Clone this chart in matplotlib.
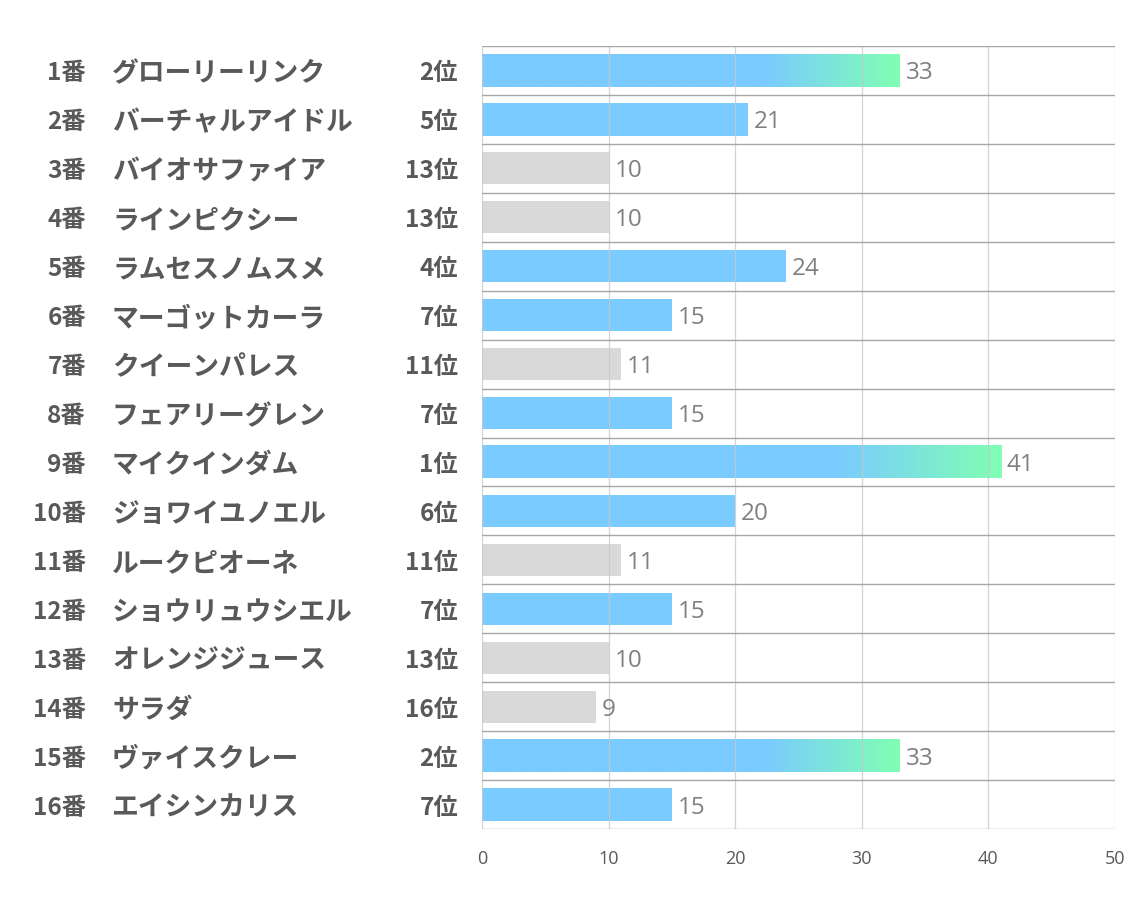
import matplotlib
matplotlib.use("Agg")
import matplotlib.pyplot as plt
import matplotlib.transforms as mtransforms
from matplotlib.colors import LinearSegmentedColormap
import numpy as np

plt.rcParams['font.family'] = ['Noto Sans CJK JP', 'DejaVu Sans']

numbers = ["1番", "2番", "3番", "4番", "5番", "6番", "7番", "8番",
           "9番", "10番", "11番", "12番", "13番", "14番", "15番", "16番"]
names = ["グローリーリンク", "バーチャルアイドル", "バイオサファイア", "ラインピクシー",
         "ラムセスノムスメ", "マーゴットカーラ", "クイーンパレス", "フェアリーグレン",
         "マイクインダム", "ジョワイユノエル", "ルークピオーネ", "ショウリュウシエル",
         "オレンジジュース", "サラダ", "ヴァイスクレー", "エイシンカリス"]
ranks = [2, 5, 13, 13, 4, 7, 11, 7, 1, 6, 11, 7, 13, 16, 2, 7]
values = [33, 21, 10, 10, 24, 15, 11, 15, 41, 20, 11, 15, 10, 9, 33, 15]
xticks = [0, 10, 20, 30, 40, 50]

BLUE = "#7ACBFF"
GREEN = "#80FFB4"
GRAY = "#D9D9D9"
TXT = "#595959"

fig = plt.figure(figsize=(11.34, 9.07), dpi=100)
ax = fig.add_axes([482/1134, 1-829/907, (1115-482)/1134, (829-46)/907])

n = len(values)
ypos = np.arange(n)
h = 0.66
gcmap = LinearSegmentedColormap.from_list("g2", [(0, BLUE), (0.68, BLUE), (1, GREEN)])

down = mtransforms.ScaledTranslation(0, -3/100, fig.dpi_scale_trans)

for y, v, r in zip(ypos, values, ranks):
    if r >= 11:
        ax.barh(y, v, height=h, color=GRAY, zorder=2)
    elif r <= 3:
        img = np.linspace(0, 1, 256).reshape(1, -1)
        ax.imshow(img, cmap=gcmap, extent=[0, v, y + h/2, y - h/2],
                  aspect='auto', zorder=2, interpolation='bilinear')
    else:
        ax.barh(y, v, height=h, color=BLUE, zorder=2)
    ax.text(v + 0.45, y, str(v), va='center', ha='left', fontsize=17.5,
            color="#808080", family=['Open Sans', 'DejaVu Sans'], zorder=4,
            transform=ax.transData + down)

ax.set_xlim(0, 50)
ax.set_ylim(n - 0.5, -0.5)
ax.set_xticks(xticks)
ax.set_xticklabels([str(t) for t in xticks], fontsize=13, color=TXT,
                   family=['Open Sans', 'DejaVu Sans'])
ax.tick_params(axis='x', length=0, pad=15)
ax.set_yticks([])
for s in ax.spines.values():
    s.set_visible(False)

for t in xticks:
    ax.axvline(t, color="#C8C8C8", lw=0.9, alpha=0.8, zorder=3)
for b in np.arange(n + 1) - 0.5:
    ax.axhline(b, color="#A6A6A6", lw=1.0, zorder=3)

tr = mtransforms.blended_transform_factory(fig.transFigure, ax.transData) + down
for y, num, name, r in zip(ypos, numbers, names, ranks):
    kw = dict(transform=tr, va='center', fontweight='bold', color=TXT)
    fig.text(86/1134, y, num, ha='right', fontsize=17.5, **kw)
    fig.text(112/1134, y, name, ha='left', fontsize=19.3, **kw)
    fig.text(458/1134, y, f"{r}位", ha='right', fontsize=17.5, **kw)

fig.savefig("out.png", dpi=100)
